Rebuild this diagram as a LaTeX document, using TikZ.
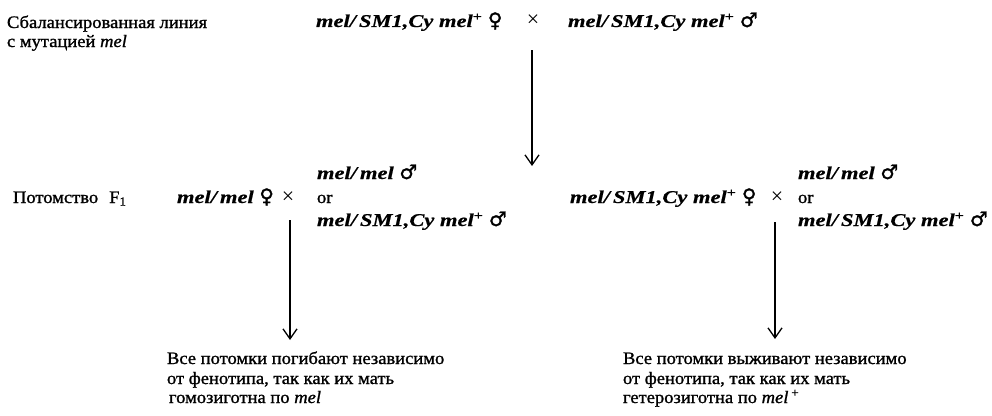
\documentclass[tikz,border=0pt]{standalone}
\usepackage{fontspec}
\setmainfont{Liberation Serif}[FakeStretch=1.06,FakeBold=1.2]
\newfontfamily\genofont{Liberation Serif}[FakeStretch=1.25,FakeBold=0.6]
\newfontfamily\symfont{DejaVu Sans}[FakeBold=1.5]
\newfontfamily\crossfont{Liberation Serif}
\usetikzlibrary{arrows.meta}
\newcommand\femsym{{\fontsize{20}{20}\symfont\char"2640}}
\newcommand\malsym{{\fontsize{20}{20}\symfont\char"2642}}
\newcommand\gsm{mel/\,SM1,Cy mel\textsuperscript{+}}
\newcommand\gmm{mel/\,mel}
\begin{document}
\begin{tikzpicture}[x=1pt,y=-1pt,
  every node/.style={inner sep=0pt,outer sep=0pt},
  rus/.style={font=\fontsize{17.5}{19.5}\selectfont, anchor=base west},
  geno/.style={font=\fontsize{18}{19.5}\selectfont\genofont\bfseries\itshape, anchor=base west},
  cross/.style={font=\fontsize{22}{22}\selectfont\crossfont, anchor=base},
  flow/.style={line width=1.3pt, -{Straight Barb[length=10pt,width=14pt]}}]
\useasboundingbox (0,0) rectangle (992,415);
% top row
\node[rus] (bal1) at (7,28) {Сбалансированная линия};
\node[rus] (bal2) at (7,47) {с мутацией \textit{mel}};
\node[geno] (p1) at (316,27) {\gsm\ \femsym};
\node[cross] (x1) at (533,27) {×};
\node[geno] (p2) at (568,27) {\gsm\ \malsym};
\coordinate (t1s) at (532,50);
\coordinate (t1e) at (532,166);
\draw[flow] (t1s) -- (t1e);
% second row
\node[rus] (off) at (13,203) {Потомство\hspace{11pt}F\textsubscript{1}};
\node[geno] (q1) at (177,203) {\gmm\ \femsym};
\node[cross] (x2) at (288,203) {×};
\node[geno] (m1a) at (317,179) {\gmm\ \malsym};
\node[rus] (or1) at (317,203) {or};
\node[geno] (m1b) at (317,226) {\gsm\ \malsym};
\node[geno] (q2) at (570,203) {\gsm\ \femsym};
\node[cross] (x3) at (777,203) {×};
\node[geno] (m2a) at (798,179) {\gmm\ \malsym};
\node[rus] (or2) at (798,203) {or};
\node[geno] (m2b) at (798,226) {\gsm\ \malsym};
\coordinate (t2s) at (290,220);
\coordinate (t2e) at (290,340);
\coordinate (t3s) at (775,222);
\coordinate (t3e) at (775,339);
\draw[flow] (t2s) -- (t2e);
\draw[flow] (t3s) -- (t3e);
% bottom texts
\node[rus] (l1) at (167,364) {Все потомки погибают независимо};
\node[rus] (l2) at (167,384) {от фенотипа, так как их мать};
\node[rus] (l3) at (169,403) {гомозиготна по \textit{mel}};
\node[rus] (r1) at (623,364) {Все потомки выживают независимо};
\node[rus] (r2) at (623,384) {от фенотипа, так как их мать};
\node[rus] (r3) at (623,403) {гетерозиготна по \textit{mel}\,\textsuperscript{+}};
\end{tikzpicture}
\end{document}
